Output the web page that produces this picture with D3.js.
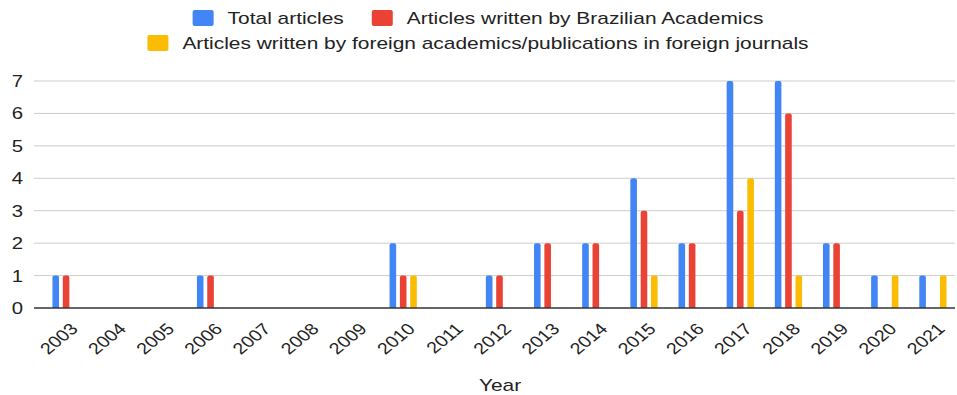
<!DOCTYPE html>
<html>
<head>
<meta charset="utf-8">
<script src="https://cdn.jsdelivr.net/npm/d3@7"></script>
<style>
  body { margin: 0; background: #fff; }
  text { font-family: "Liberation Sans", Arial, sans-serif; fill: #222; }
</style>
</head>
<body>
<svg id="chart" width="957" height="395"></svg>
<script>
// data
var years = ["2003","2004","2005","2006","2007","2008","2009","2010","2011","2012",
             "2013","2014","2015","2016","2017","2018","2019","2020","2021"];
var totalArticles     = [1,0,0,1,0,0,0,2,0,1,2,2,4,2,7,7,2,1,1];
var brazilianArticles = [1,0,0,1,0,0,0,1,0,1,2,2,3,2,3,6,2,0,0];
var foreignArticles   = [0,0,0,0,0,0,0,1,0,0,0,0,1,0,4,1,0,1,1];
var seriesNames = ["Total articles", "Articles written by Brazilian Academics",
                   "Articles written by foreign academics/publications in foreign journals"];
var seriesColors = ["#4285F4", "#EA4335", "#FBBC04"];
var yTicks = [0,1,2,3,4,5,6,7];

// the original picture is a little wider than tall, text is stretched with it
var sx = 1.23;

var svg = d3.select("#chart");
var gridLeft = 34, gridRight = 955, plotTop = 81, plotBottom = 308;

var x = d3.scaleBand().domain(years).range([42, 957]);
var x1 = d3.scaleBand().domain([0,1,2]).range([0, 31]);
var y = d3.scaleLinear().domain([0, 7]).range([plotBottom, plotTop]);

// gridlines + y labels
svg.append("g").selectAll("line").data(yTicks.filter(function(d){ return d > 0; }))
  .enter().append("line")
  .attr("x1", gridLeft).attr("x2", gridRight)
  .attr("y1", function(d){ return y(d); }).attr("y2", function(d){ return y(d); })
  .attr("stroke", "#cccccc").attr("stroke-width", 1);

svg.append("g").selectAll("text").data(yTicks).enter().append("text")
  .attr("transform", function(d){ return "translate(23," + y(d) + ") scale(" + sx + ",1)"; })
  .attr("dy", "0.36em").attr("text-anchor", "end")
  .style("font-size", "16.5px")
  .text(function(d){ return d; });

// bars
var rows = years.map(function(yr, i) {
  return { year: yr, vals: [totalArticles[i], brazilianArticles[i], foreignArticles[i]] };
});
var bw = 6.6;
var groups = svg.append("g").selectAll("g").data(rows).enter().append("g")
  .attr("transform", function(d){ return "translate(" + (x(d.year) + (x.bandwidth() - 31) / 2) + ",0)"; });

groups.selectAll("path").data(function(d){
    return d.vals.map(function(v, k){ return { v: v, k: k }; }).filter(function(e){ return e.v > 0; });
  })
  .enter().append("path")
  .attr("fill", function(d){ return seriesColors[d.k]; })
  .attr("d", function(d){
    var x0 = x1(d.k) + (x1.bandwidth() - bw) / 2, x2 = x0 + bw;
    var top = y(d.v), r = 2;
    return "M" + x0 + "," + plotBottom + "V" + (top + r) +
      "Q" + x0 + "," + top + " " + (x0 + r) + "," + top +
      "H" + (x2 - r) + "Q" + x2 + "," + top + " " + x2 + "," + (top + r) +
      "V" + plotBottom + "Z";
  });

// baseline
svg.append("line")
  .attr("x1", gridLeft).attr("x2", gridRight)
  .attr("y1", plotBottom).attr("y2", plotBottom)
  .attr("stroke", "#333").attr("stroke-width", 1.5);

// x labels
svg.append("g").selectAll("text").data(years).enter().append("text")
  .attr("transform", function(d){
    return "translate(" + (x(d) + x.bandwidth() / 2 + 13) + ",330) scale(" + sx + ",1) rotate(-45)";
  })
  .attr("text-anchor", "end")
  .style("font-size", "16px")
  .text(function(d){ return d; });

svg.append("text").attr("transform", "translate(500,391) scale(" + sx + ",1)")
  .attr("text-anchor", "middle")
  .style("font-size", "17px").text("Year");

// legend
var legend = svg.append("g");
function legendRow(items, cy, base) {
  var g = legend.append("g");
  var cx = 0;
  items.forEach(function(k) {
    g.append("rect").attr("x", cx).attr("y", cy - 8).attr("width", 21).attr("height", 16)
      .attr("rx", 2).attr("fill", seriesColors[k]);
    var t = g.append("text").attr("transform", "translate(" + (cx + 35) + "," + base + ") scale(" + sx + ",1)")
      .style("font-size", "17px").text(seriesNames[k]);
    cx += 35 + t.node().getComputedTextLength() * sx + 28;
  });
  var w = cx - 28;
  g.attr("transform", "translate(" + (478 - w / 2) + ",0)");
}
legendRow([0, 1], 18, 23.5);
legendRow([2], 43, 48.5);
</script>
</body>
</html>
